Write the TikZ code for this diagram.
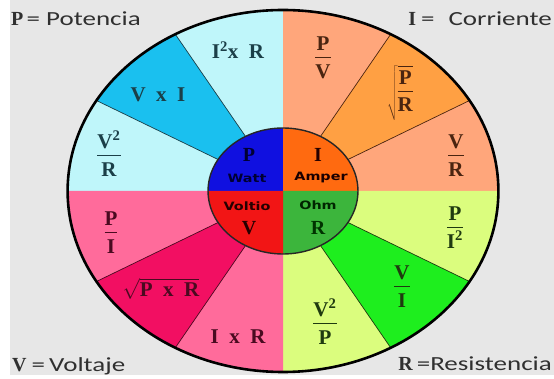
\documentclass[tikz,border=0pt]{standalone}
\usepackage{fontspec}
\setmainfont{Liberation Serif}
\newfontfamily\wordfont{Carlito}[FakeStretch=1.35]
\newfontfamily\unitfont{DejaVu Sans}[FakeStretch=1.25]
\usepackage{xcolor}
\usepackage{tikz}
\definecolor{bg}{HTML}{E7E7E7}
\definecolor{capgray}{HTML}{303030}
\definecolor{pale}{HTML}{BFF6FA}
\definecolor{cyanm}{HTML}{1AC0EF}
\definecolor{pblue}{HTML}{1010E0}
\definecolor{salm}{HTML}{FFA67B}
\definecolor{oran}{HTML}{FFA043}
\definecolor{iorange}{HTML}{FF6A10}
\definecolor{lime}{HTML}{DBFD7E}
\definecolor{grn}{HTML}{1EEE1E}
\definecolor{rgreen}{HTML}{3CB53C}
\definecolor{pink}{HTML}{FF6B9B}
\definecolor{mag}{HTML}{F20F62}
\definecolor{vred}{HTML}{F21515}
\definecolor{tp}{HTML}{1B3F48}
\definecolor{ti}{HTML}{4A2410}
\definecolor{tr}{HTML}{1F3A10}
\definecolor{tv}{HTML}{4A0A20}
\newcommand{\frc}[2]{{\setlength{\arrayrulewidth}{1.3pt}%
  \begin{tabular}{@{}c@{}}#1\\\hline\rule{0pt}{20pt}#2\end{tabular}}}
\tikzset{
  frm/.style ={font=\bfseries\fontsize{21}{22}\selectfont, inner sep=0pt, align=center},
  qty/.style ={font=\bfseries\fontsize{20}{22}\selectfont, inner sep=0pt},
  unit/.style={font=\unitfont\bfseries\fontsize{11.5}{12}\selectfont, inner sep=0pt},
  legend/.style ={font=\wordfont\fontsize{20}{22}\selectfont, text=capgray, inner sep=0pt},
  sep/.style ={line width=0.7pt},
}

\begin{document}
\begin{tikzpicture}[x=1pt,y=1pt]
\useasboundingbox (0,0) rectangle (554,-379);
\fill[white] (0,0) rectangle (554,-379);
\fill[bg] (10,0) rectangle (554,-375);
% wheel
\begin{scope}[shift={(283,-191)}, xscale=1.19]
\fill[pale] (0,0) -- (90:181) arc (90:180:181) -- cycle;
\fill[cyanm] (0,0) -- (120:181) arc (120:150:181) -- cycle;
\fill[salm] (0,0) -- (0:181) arc (0:90:181) -- cycle;
\fill[oran] (0,0) -- (30:181) arc (30:60:181) -- cycle;
\fill[lime] (0,0) -- (270:181) arc (270:360:181) -- cycle;
\fill[grn] (0,0) -- (300:181) arc (300:330:181) -- cycle;
\fill[pink] (0,0) -- (180:181) arc (180:270:181) -- cycle;
\fill[mag] (0,0) -- (210:181) arc (210:240:181) -- cycle;
\draw[sep, draw=tp] (120:63) -- (120:181) (150:63) -- (150:181);
\draw[sep, draw=ti] (30:63) -- (30:181) (60:63) -- (60:181);
\draw[sep, draw=tr] (300:63) -- (300:181) (330:63) -- (330:181);
\draw[sep, draw=tv] (210:63) -- (210:181) (240:63) -- (240:181);
\fill[pblue] (0,0) -- (90:63) arc (90:180:63) -- cycle;
\fill[iorange] (0,0) -- (0:63) arc (0:90:63) -- cycle;
\fill[rgreen] (0,0) -- (270:63) arc (270:360:63) -- cycle;
\fill[vred] (0,0) -- (180:63) arc (180:270:63) -- cycle;
\draw[line width=1.4pt, draw=black!85] (0,0) circle (63);
\draw[line width=2.6pt] (0,0) circle (181);
\end{scope}
% centre
\node[qty, text=black!80!blue] (p) at (249,-155) {P};
\node[unit, text=black!80!blue] (watt) at (247,-178) {Watt};
\node[qty, text=black!85!red] (i) at (318,-155) {I};
\node[unit, text=black!90!red] (amp) at (321,-178) {Amper};
\node[unit, text=black!85!red] (volt) at (247,-206) {Voltio};
\node[qty, text=black!85!red] (v) at (249,-228) {V};
\node[unit, text=black!85!green] (ohm) at (318,-205) {Ohm};
\node[qty, text=black!80!green] (r) at (318,-228) {R};
% potencia
\node[frm, text=tp] (pir) at (238,-50) {I\textsuperscript{2}x\enspace R};
\node[frm, text=tp] (pvi) at (158,-95) {V\enspace x\enspace I};
\node[frm, text=tp] (pvr) at (109,-157) {\frc{V\textsuperscript{2}}{R}};
% corriente
\node[frm, text=ti] (ipv) at (323,-60) {\frc{P}{V}};
\node[frm, text=ti] (ipr) at (400,-93) {$\sqrt{\mbox{\frc{P}{R}}}$};
\node[frm, text=ti] (ivr) at (456,-158) {\frc{V}{R}};
% resistencia
\node[frm, text=tr] (rpi) at (455,-230) {\frc{P}{I\textsuperscript{2}}};
\node[frm, text=tr] (rvi) at (402,-289) {\frc{V}{I}};
\node[frm, text=tr] (rvp) at (325,-325) {\frc{V\textsuperscript{2}}{P}};
% voltaje
\node[frm, text=tv] (vpi) at (111,-235) {\frc{P}{I}};
\node[frm, text=tv] (vpr) at (161,-289) {$\sqrt{\mbox{P\enspace x\enspace R}}$};
\node[frm, text=tv] (vir) at (238,-337) {I\enspace x\enspace R};
% leyenda
\node[legend, anchor=west] (lp) at (11,-19) {\rmfamily\bfseries P\,\wordfont\mdseries=\hspace{6pt}Potencia};
\node[legend, anchor=east] (li) at (552,-19) {\rmfamily\bfseries I\hspace{5pt}\wordfont\mdseries=\hspace{14pt}Corriente};
\node[legend, anchor=west] (lv) at (12,-366) {\rmfamily\bfseries V\hspace{5pt}\wordfont\mdseries=\hspace{4pt}Voltaje};
\node[legend, anchor=east] (lr) at (552,-364) {\rmfamily\bfseries R\hspace{4pt}\wordfont\mdseries=Resistencia};
\end{tikzpicture}
\end{document}
